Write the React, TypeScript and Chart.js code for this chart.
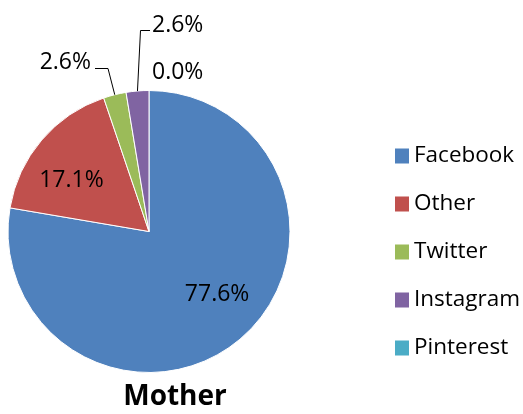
import React, { useEffect, useRef } from "react";
import { Chart, registerables } from "chart.js";

Chart.register(...registerables);

const categories = ["Facebook", "Other", "Twitter", "Instagram", "Pinterest"];
const values = [77.6, 17.1, 2.6, 2.6, 0.0];
const colors = ["#4F81BD", "#C0504D", "#9BBB59", "#8064A2", "#4BACC6"];
const titleText = "Mother";

const FONT = "'Open Sans', 'Liberation Sans', sans-serif";

const labelPlugin = {
  id: "excelLabels",
  afterDatasetsDraw(chart: any) {
    const ctx = chart.ctx;
    const meta = chart.getDatasetMeta(0);
    ctx.save();
    ctx.fillStyle = "#000";
    ctx.font = `23px ${FONT}`;
    ctx.textBaseline = "middle";
    const pts = meta.data.map((arc: any) => {
      const p = arc.getProps(["x", "y", "startAngle", "endAngle", "outerRadius"], true);
      return p;
    });
    const fmt = (v: number) => v.toFixed(1) + "%";
    // inside labels
    [0, 1].forEach((i) => {
      const p = pts[i];
      const mid = (p.startAngle + p.endAngle) / 2 - 0.12;
      const r = p.outerRadius * 0.66;
      ctx.textAlign = "center";
      ctx.fillText(fmt(values[i]), p.x + r * Math.cos(mid), p.y + r * Math.sin(mid));
    });
    // outside labels with leader lines
    ctx.strokeStyle = "#000";
    ctx.lineWidth = 1;
    const anchor = (i: number) => {
      const p = pts[i];
      const mid = (p.startAngle + p.endAngle) / 2;
      return [p.x + p.outerRadius * Math.cos(mid), p.y + p.outerRadius * Math.sin(mid)];
    };
    // Twitter
    {
      const [ax, ay] = anchor(2);
      ctx.beginPath();
      ctx.moveTo(ax, ay);
      ctx.lineTo(108, 68.5);
      ctx.lineTo(95, 68.5);
      ctx.stroke();
      ctx.textAlign = "right";
      ctx.fillText(fmt(values[2]), 91, 62);
    }
    // Instagram
    {
      const [ax, ay] = anchor(3);
      ctx.beginPath();
      ctx.moveTo(ax, ay);
      ctx.lineTo(140.5, 30.5);
      ctx.lineTo(150, 30.5);
      ctx.stroke();
      ctx.textAlign = "left";
      ctx.fillText(fmt(values[3]), 152, 25);
    }
    // Pinterest
    ctx.textAlign = "left";
    ctx.fillText(fmt(values[4]), 152, 72);

    // legend
    ctx.font = `22.5px ${FONT}`;
    categories.forEach((c, i) => {
      const cy = 156 + i * 48;
      ctx.fillStyle = colors[i];
      ctx.fillRect(395, cy - 7.5, 14, 15);
      ctx.fillStyle = "#000";
      ctx.textAlign = "left";
      ctx.fillText(c, 414, cy);
    });

    // title
    ctx.font = `bold 28px ${FONT}`;
    ctx.textAlign = "center";
    ctx.textBaseline = "alphabetic";
    ctx.fillText(titleText, 175, 405);
    ctx.restore();
  },
};

export default function App() {
  const ref = useRef<HTMLCanvasElement>(null);
  useEffect(() => {
    if (!ref.current) return;
    const chart = new Chart(ref.current, {
      type: "pie",
      data: {
        labels: categories,
        datasets: [
          {
            data: values,
            backgroundColor: colors,
            borderColor: "#ffffff",
            borderWidth: 1,
          },
        ],
      },
      options: {
        animation: false,
        responsive: false,
        devicePixelRatio: 1,
        layout: { padding: { left: 7, top: 90, right: 232, bottom: 41 } },
        plugins: {
          legend: { display: false },
          tooltip: { enabled: false },
          title: { display: false },
        },
      },
      plugins: [labelPlugin],
    });
    return () => chart.destroy();
  }, []);
  return (
    <div style={{ position: "absolute", left: 0, top: 0, width: 523, height: 414, background: "#fff" }}>
      <canvas ref={ref} width={523} height={414} />
    </div>
  );
}
